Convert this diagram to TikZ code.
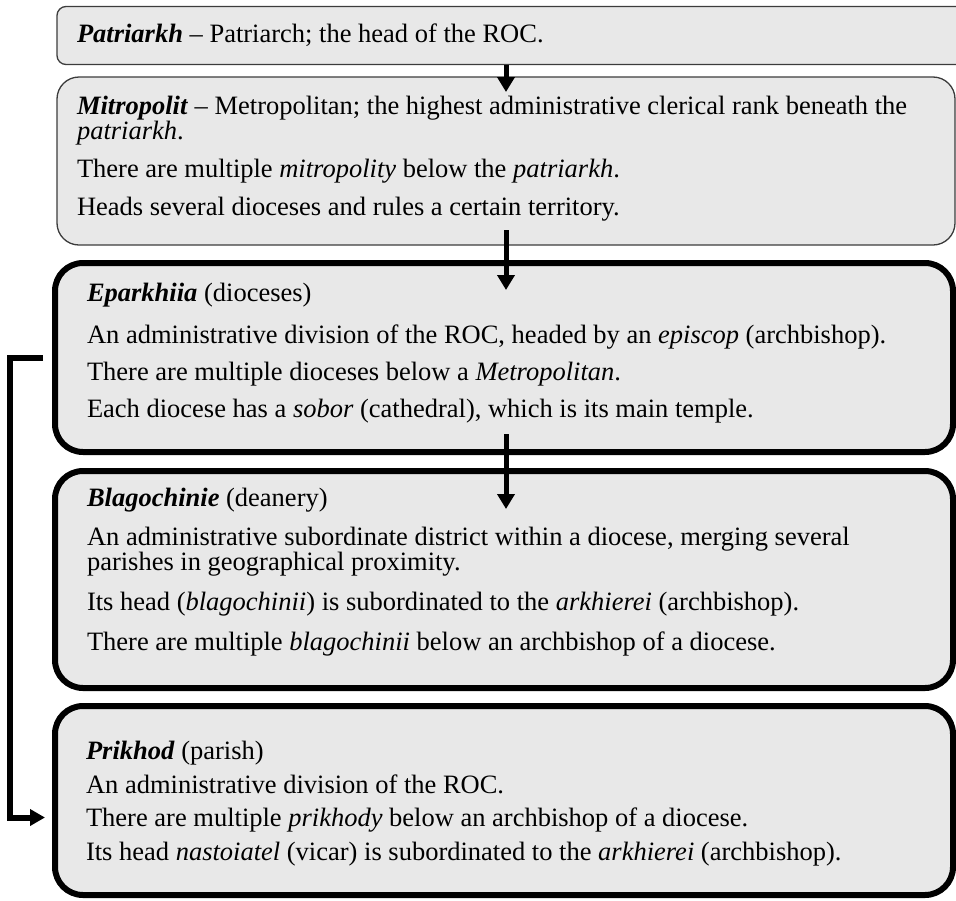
\documentclass[tikz,border=0pt]{standalone}
\usepackage{fontspec}
\setmainfont{Liberation Serif}
\usetikzlibrary{positioning,calc,arrows.meta}
\definecolor{Panel}{HTML}{E8E8E8}
\definecolor{Rim}{HTML}{3C3C3C}

\begin{document}
\begin{tikzpicture}[x=1pt,y=1pt,
  every node/.style={align=left,inner sep=0pt,outer sep=0pt},
  rank/.style={draw=Rim,line width=1.3pt,fill=Panel,rounded corners=10pt,anchor=north west},
  unit/.style={draw=black,line width=6pt,fill=Panel,rounded corners=28pt,minimum width=898pt,anchor=north west},
  txt/.style={font=\fontsize{26.5}{25}\selectfont},
  down/.style={line width=5pt,-{Triangle[length=15pt,width=17pt]}},
  link/.style={line width=6pt,-{Triangle[length=15pt,width=16pt]}}]
  \useasboundingbox (0,0) rectangle (956,-900);
  \coordinate (spine) at (506,0);
  % levels of the hierarchy
  \node[rank,minimum width=913pt,minimum height=58pt,rounded corners=9pt] (patr) at (57,-6.5) {};
  \node[rank,minimum width=898pt,minimum height=168pt,rounded corners=22pt] (metr) at (57,-77) {};
  \node[unit,minimum height=189pt] (eparh) at (55,-263) {};
  \node[unit,minimum height=217pt] (blag) at (55,-471) {};
  \node[unit,minimum height=189pt] (prik) at (55,-706) {};
  % texts
  \node[txt,right=20pt of patr.west] (patrtx) {\textbf{\textit{Patriarkh}} -- Patriarch; the head of the ROC.};
  \node[txt,below right=18.7pt and 20pt of metr.north west] (metrtx) {\textbf{\textit{Mitropolit}} -- Metropolitan; the highest administrative clerical rank beneath the\\
    \textit{patriarkh}.\\[13pt]
    There are multiple \textit{mitropolity} below the \textit{patriarkh}.\\[13pt]
    Heads several dioceses and rules a certain territory.};
  \node[txt,below right=19.7pt and 32pt of eparh.north west] (eparhtx) {\textbf{\textit{Eparkhiia}} (dioceses)\\[17pt]
    An administrative division of the ROC, headed by an \textit{episcop} (archbishop).\\[12pt]
    There are multiple dioceses below a \textit{Metropolitan}.\\[12pt]
    Each diocese has a \textit{sobor} (cathedral), which is its main temple.};
  \node[txt,below right=16.7pt and 32pt of blag.north west] (blagtx) {\textbf{\textit{Blagochinie}} (deanery)\\[14pt]
    An administrative subordinate district within a diocese, merging several\\
    parishes in geographical proximity.\\[15pt]
    Its head (\textit{blagochinii}) is subordinated to the \textit{arkhierei} (archbishop).\\[15pt]
    There are multiple \textit{blagochinii} below an archbishop of a diocese.};
  \node[txt,below right=34.7pt and 31pt of prik.north west] (priktx) {\textbf{\textit{Prikhod}} (parish)\\[9pt]
    An administrative division of the ROC.\\[8pt]
    There are multiple \textit{prikhody} below an archbishop of a diocese.\\[9pt]
    Its head \textit{nastoiatel} (vicar) is subordinated to the \textit{arkhierei} (archbishop).};
  % connectors
  \draw[down] (patr.south -| spine) -- ($(metr.north -| spine)+(0,-15)$);
  \draw[down] ($(metr.south -| spine)+(0,15)$) -- ($(eparh.north -| spine)+(0,-27)$);
  \draw[down] ($(eparh.south -| spine)+(0,18)$) -- ($(blag.north -| spine)+(0,-38)$);
  \draw[link] ($(eparh.west)+(-12,0)$) -- ++(-33,0) |- ($(prik.west)+(-10,-17)$);
\end{tikzpicture}
\end{document}
